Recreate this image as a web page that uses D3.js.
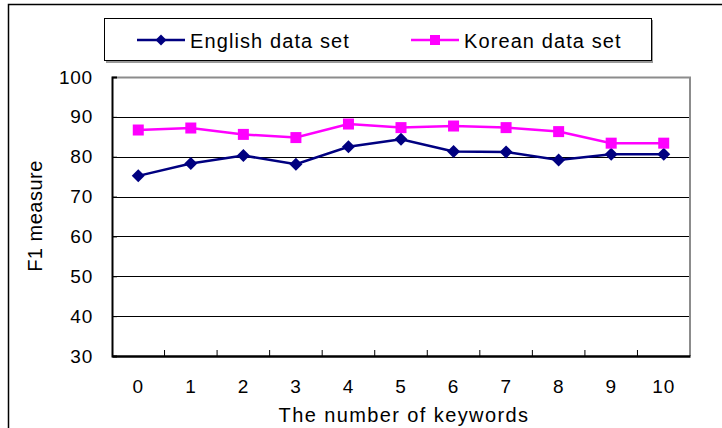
<!DOCTYPE html>
<html><head><meta charset="utf-8">
<script src="https://cdn.jsdelivr.net/npm/d3@7/dist/d3.min.js"></script>
<style>body{margin:0;background:#fff}svg{display:block}text{font-family:"Liberation Sans",Arial,sans-serif;fill:#000}</style>
</head><body><svg id="c" width="722" height="428"></svg>
<script>
const categories = ["0","1","2","3","4","5","6","7","8","9","10"];
const english = [75.2, 78.3, 80.3, 78.1, 82.5, 84.4, 81.3, 81.2, 79.2, 80.6, 80.6];
const korean  = [86.7, 87.2, 85.6, 84.8, 88.2, 87.3, 87.7, 87.3, 86.3, 83.4, 83.4];
const yTicks = [30, 40, 50, 60, 70, 80, 90, 100];
const seriesNames = ["English data set", "Korean data set"];
const colors = ["#000080", "#FF00FF"];

const svg = d3.select("#c");
const L = 112, R = 690, T = 77, B = 356;
const x = d3.scaleBand().domain(categories).range([L, R]);
const y = d3.scaleLinear().domain([30, 100]).range([B, T]);

// outer frame
svg.append("rect").attr("x", 8.5).attr("y", 4.5).attr("width", 730).attr("height", 440)
  .attr("fill", "none").attr("stroke", "#000").attr("stroke-width", 1.5);

// gridlines
svg.append("g").selectAll("line").data(yTicks.filter(d => d > 30 && d < 100)).join("line")
  .attr("x1", L).attr("x2", R).attr("y1", d => Math.round(y(d)) + 0.5).attr("y2", d => Math.round(y(d)) + 0.5)
  .attr("stroke", "#000").attr("stroke-width", 1);
// plot border top/right grey
svg.append("path").attr("d", `M${L},${T + 0.5}H${R}V${B}`).attr("fill", "none")
  .attr("stroke", "#8c8c8c").attr("stroke-width", 2);

// y axis
const yAxis = d3.axisLeft(y).tickValues(yTicks).tickSize(-5).tickPadding(19);
const gy = svg.append("g").attr("transform", `translate(${L},0)`).call(yAxis);
gy.select(".domain").attr("stroke", "#000").attr("stroke-width", 2);
gy.selectAll(".tick line").attr("stroke", "#000");
gy.selectAll("text").attr("font-size", 19).style("letter-spacing", "0.8px")
  .style("font-family", "Liberation Sans, Arial").attr("fill", "#000");

// x axis
const xAxis = d3.axisBottom(x).tickSize(0).tickPadding(24);
const gx = svg.append("g").attr("transform", `translate(0,${B})`).call(xAxis);
gx.select(".domain").attr("stroke", "#000").attr("stroke-width", 2.5);
gx.selectAll("text").attr("font-size", 19).style("letter-spacing", "0.8px")
  .style("font-family", "Liberation Sans, Arial").attr("fill", "#000");
// ticks at band boundaries, pointing up
svg.append("g").selectAll("line").data(categories.slice(1)).join("line")
  .attr("x1", d => x(d)).attr("x2", d => x(d)).attr("y1", B).attr("y2", B - 6)
  .attr("stroke", "#000").attr("stroke-width", 1);

// axis titles
svg.append("text").attr("x", 404).attr("y", 422).attr("text-anchor", "middle").attr("font-size", 20)
  .style("letter-spacing", "1.4px").text("The number of keywords");
svg.append("text").attr("transform", "translate(42,216) rotate(-90)").attr("text-anchor", "middle").attr("font-size", 20)
  .style("letter-spacing", "0.5px").text("F1 measure");

const cx = d => x(d) + x.bandwidth() / 2;
const line = d3.line().x((d, i) => cx(categories[i])).y(d => y(d));
const data = [english, korean];
const dia = r => `M0,${-r}L${r},0L0,${r}L${-r},0Z`;

data.forEach((vals, s) => {
  svg.append("path").datum(vals).attr("d", line).attr("fill", "none")
    .attr("stroke", colors[s]).attr("stroke-width", 2.5);
  const g = svg.append("g");
  if (s === 0) {
    g.selectAll("path").data(vals).join("path")
      .attr("transform", (d, i) => `translate(${cx(categories[i])},${y(d)})`)
      .attr("d", dia(6.5)).attr("fill", colors[s]);
  } else {
    g.selectAll("rect").data(vals).join("rect")
      .attr("x", (d, i) => cx(categories[i]) - 5.5).attr("y", d => y(d) - 5.5)
      .attr("width", 11).attr("height", 11).attr("fill", colors[s]);
  }
});

// legend
const lg = svg.append("g");
lg.append("rect").attr("x", 106).attr("y", 20).attr("width", 547).attr("height", 43).attr("fill", "#999");
lg.append("rect").attr("x", 104.5).attr("y", 18.5).attr("width", 547).attr("height", 42).attr("fill", "#fff").attr("stroke", "#000");
const lx = [137, 411];
seriesNames.forEach((n, s) => {
  lg.append("line").attr("x1", lx[s]).attr("x2", lx[s] + 48).attr("y1", 40).attr("y2", 40)
    .attr("stroke", colors[s]).attr("stroke-width", 2.5);
  if (s === 0) {
    lg.append("path").attr("transform", `translate(${lx[s] + 24},40)`)
      .attr("d", dia(5.5)).attr("fill", colors[s]);
  } else {
    lg.append("rect").attr("x", lx[s] + 19).attr("y", 35).attr("width", 10).attr("height", 10).attr("fill", colors[s]);
  }
  lg.append("text").attr("x", lx[s] + 53).attr("y", 48).attr("font-size", 20)
    .style("letter-spacing", "1.1px").text(n);
});
</script></body></html>
